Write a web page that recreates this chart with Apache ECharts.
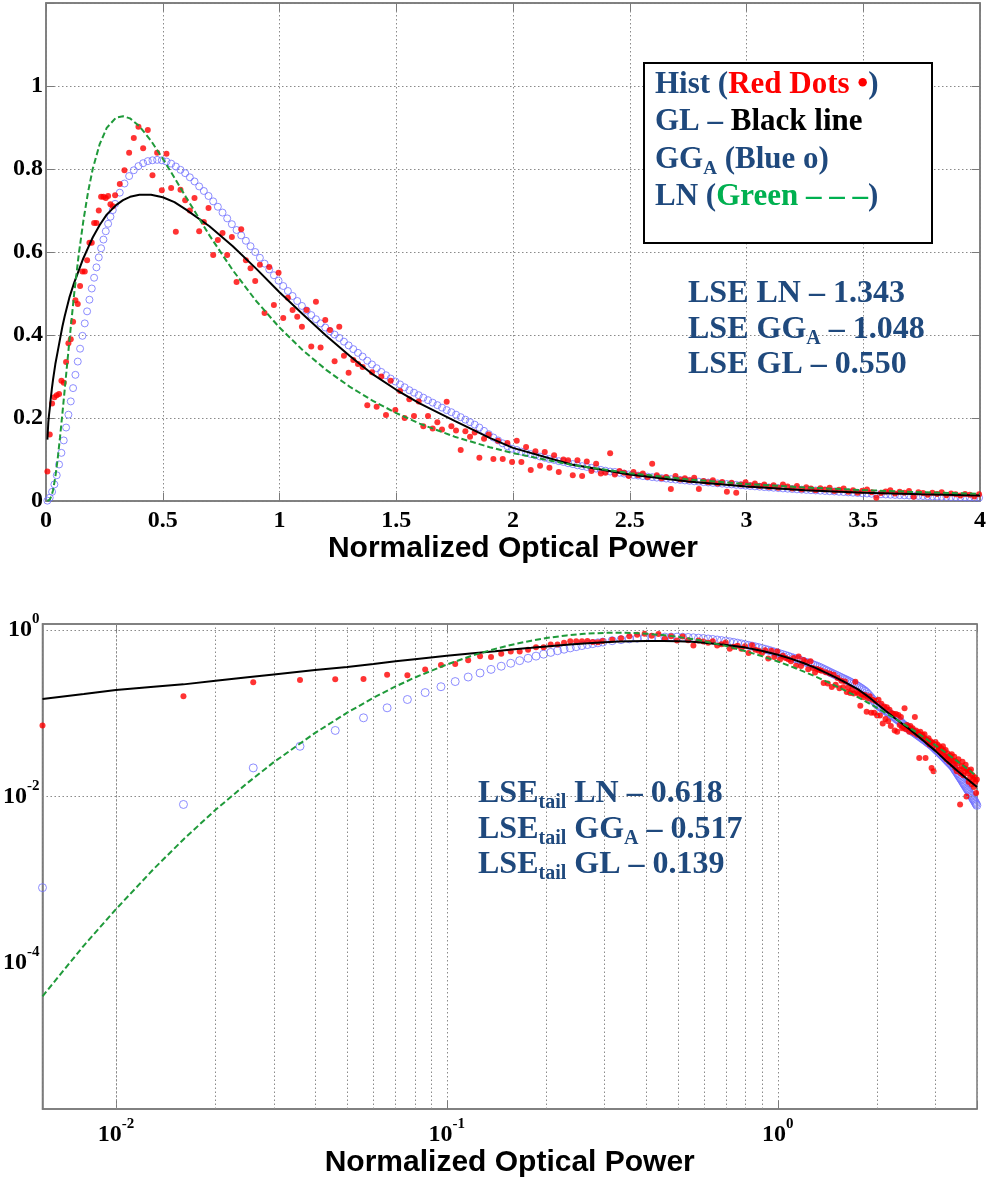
<!DOCTYPE html>
<html><head><meta charset="utf-8">
<script src="https://cdn.jsdelivr.net/npm/echarts/dist/echarts.min.js"></script>
<style>html,body{margin:0;padding:0;background:#fff}#c{width:992px;height:1183px}</style>
</head><body><div id="c"></div>
<script>
// ---------------- DATA ----------------
// shared abscissa of the histogram (red dots) and the GG_A model (blue circles)
const gridX = [
0.006,0.016,0.026,0.036,0.046,0.056,0.066,0.076,0.086,0.096,
0.106,0.116,0.126,0.136,0.146,0.156,0.166,0.176,0.186,0.196,
0.206,0.216,0.226,0.236,0.246,0.256,0.266,0.276,0.286,0.296,
0.316,0.336,0.356,0.376,0.396,0.416,0.436,0.456,0.476,0.496,
0.516,0.536,0.556,0.576,0.596,0.616,0.636,0.656,0.676,0.696,
0.716,0.736,0.756,0.776,0.796,0.816,0.836,0.856,0.876,0.896,
0.916,0.936,0.956,0.976,0.996,1.016,1.036,1.056,1.076,1.096,
1.116,1.136,1.156,1.176,1.196,1.216,1.236,1.256,1.276,1.296,
1.316,1.336,1.356,1.376,1.396,1.416,1.436,1.456,1.476,1.496,
1.516,1.536,1.556,1.576,1.596,1.616,1.636,1.656,1.676,1.696,
1.716,1.736,1.756,1.776,1.796,1.816,1.836,1.856,1.876,1.896,
1.916,1.936,1.956,1.976,1.996,2.016,2.036,2.056,2.076,2.096,
2.116,2.136,2.156,2.176,2.196,2.216,2.236,2.256,2.276,2.296,
2.316,2.336,2.356,2.376,2.396,2.416,2.436,2.456,2.476,2.496,
2.516,2.536,2.556,2.576,2.596,2.616,2.636,2.656,2.676,2.696,
2.716,2.736,2.756,2.776,2.796,2.816,2.836,2.856,2.876,2.896,
2.916,2.936,2.956,2.976,2.996,3.016,3.036,3.056,3.076,3.096,
3.116,3.136,3.156,3.176,3.196,3.216,3.236,3.256,3.276,3.296,
3.316,3.336,3.356,3.376,3.396,3.416,3.436,3.456,3.476,3.496,
3.516,3.536,3.556,3.576,3.596,3.616,3.636,3.656,3.676,3.696,
3.716,3.736,3.756,3.776,3.796,3.816,3.836,3.856,3.876,3.896,
3.916,3.936,3.956,3.976,3.996];

// Hist (red dots)
const histY = [
0.071,0.160,0.235,0.250,0.255,0.258,0.290,0.285,0.335,0.380,
0.390,0.432,0.484,0.475,0.518,0.553,0.553,0.580,0.622,0.622,
0.670,0.670,0.700,0.733,0.733,0.730,0.735,0.715,0.710,0.737,
0.764,0.797,0.839,0.875,0.902,0.850,0.894,0.785,0.839,0.749,
0.837,0.754,0.649,0.750,0.725,0.700,0.730,0.650,0.672,0.706,
0.593,0.629,0.646,0.593,0.636,0.528,0.655,0.580,0.561,0.530,
0.569,0.453,0.564,0.472,0.550,0.441,0.490,0.460,0.444,0.420,
0.460,0.372,0.480,0.370,0.436,0.412,0.337,0.420,0.350,0.309,
0.340,0.330,0.323,0.231,0.310,0.227,0.300,0.207,0.290,0.219,
0.265,0.200,0.245,0.205,0.240,0.180,0.205,0.175,0.190,0.172,
0.239,0.180,0.170,0.123,0.168,0.155,0.165,0.104,0.150,0.160,
0.101,0.145,0.101,0.140,0.094,0.145,0.094,0.130,0.075,0.120,
0.085,0.118,0.080,0.110,0.070,0.100,0.098,0.062,0.098,0.060,
0.095,0.072,0.090,0.066,0.068,0.115,0.064,0.072,0.068,0.060,
0.070,0.062,0.066,0.058,0.090,0.062,0.055,0.058,0.029,0.060,
0.052,0.055,0.050,0.056,0.029,0.048,0.045,0.050,0.042,0.046,
0.022,0.044,0.020,0.040,0.045,0.038,0.042,0.036,0.040,0.034,
0.038,0.032,0.040,0.035,0.030,0.036,0.028,0.033,0.030,0.026,
0.031,0.028,0.032,0.024,0.027,0.030,0.022,0.026,0.020,0.025,
0.028,0.021,0.008,0.019,0.023,0.026,0.018,0.022,0.020,0.024,
0.010,0.021,0.019,0.015,0.020,0.017,0.021,0.014,0.018,0.016,
0.013,0.017,0.015,0.011,0.016];

// GG_A model (blue circles)
const ggaY = [
0.0008,0.008,0.022,0.040,0.062,0.088,0.116,0.146,0.177,0.208,
0.240,0.272,0.304,0.336,0.367,0.398,0.428,0.457,0.485,0.512,
0.538,0.563,0.587,0.609,0.630,0.650,0.668,0.685,0.701,0.716,
0.743,0.765,0.783,0.797,0.807,0.814,0.819,0.821,0.822,0.821,
0.818,0.813,0.806,0.798,0.790,0.780,0.770,0.758,0.747,0.735,
0.722,0.709,0.695,0.681,0.667,0.653,0.640,0.627,0.614,0.600,
0.586,0.572,0.558,0.544,0.531,0.518,0.506,0.494,0.482,0.470,
0.459,0.448,0.438,0.428,0.418,0.409,0.401,0.393,0.384,0.375,
0.366,0.357,0.348,0.338,0.329,0.320,0.311,0.303,0.295,0.288,
0.281,0.274,0.267,0.261,0.255,0.249,0.243,0.237,0.231,0.225,
0.219,0.214,0.208,0.202,0.196,0.190,0.184,0.177,0.169,0.161,
0.153,0.146,0.139,0.132,0.126,0.123,0.119,0.116,0.113,0.110,
0.107,0.104,0.101,0.099,0.096,0.094,0.091,0.089,0.086,0.084,
0.082,0.080,0.078,0.075,0.073,0.071,0.070,0.068,0.066,0.064,
0.0627,0.0613,0.060,0.0588,0.0575,0.0563,0.0551,0.054,0.0528,0.0517,
0.0506,0.0495,0.0485,0.0475,0.0465,0.0455,0.0445,0.0436,0.0427,0.0418,
0.0409,0.040,0.039,0.038,0.037,0.036,0.0353,0.0344,0.0335,0.0327,
0.0319,0.0311,0.0303,0.0296,0.0288,0.0281,0.0274,0.0267,0.026,0.0254,
0.0248,0.0242,0.0236,0.023,0.0222,0.0215,0.0207,0.020,0.0193,0.0187,
0.018,0.0174,0.0168,0.0162,0.0157,0.0151,0.0146,0.0141,0.0136,0.0132,
0.0127,0.0123,0.0119,0.0115,0.0111,0.0107,0.0103,0.0100,0.0096,0.0093,
0.0090,0.0087,0.0084,0.0081,0.0078];

// abscissa of the two fitted curves
const lineX = [
0.006,0.008,0.01,0.013,0.016,0.02,0.025,0.03,0.04,0.05,
0.06,0.07,0.08,0.1,0.12,0.14,0.16,0.18,0.2,0.23,
0.26,0.3,0.33,0.36,0.4,0.45,0.5,0.55,0.6,0.7,
0.8,0.9,1.0,1.1,1.2,1.3,1.4,1.5,1.6,1.75,
1.9,2.0,2.25,2.5,2.75,3.0,3.25,3.5,3.75,4.0];

// GL model (black line)
const glY = [
0.148,0.170,0.190,0.208,0.222,0.245,0.270,0.292,0.330,0.360,
0.390,0.420,0.445,0.490,0.525,0.555,0.585,0.610,0.635,0.665,
0.690,0.713,0.725,0.733,0.738,0.738,0.732,0.720,0.702,0.662,
0.614,0.560,0.503,0.450,0.398,0.350,0.305,0.268,0.235,0.193,
0.152,0.128,0.088,0.064,0.047,0.035,0.026,0.020,0.016,0.013];

// LN model (green dashed)
const lnY = [
0.0000396,0.000161,0.00044,0.00134,0.00304,0.0069,0.01455,0.0258,0.058,0.1014,
0.1533,0.2096,0.268,0.385,0.496,0.593,0.675,0.744,0.800,0.860,
0.899,0.924,0.927,0.922,0.903,0.868,0.825,0.779,0.732,0.640,
0.556,0.482,0.418,0.363,0.316,0.2757,0.2413,0.2119,0.1865,0.155,
0.1296,0.1154,0.0873,0.0670,0.0521,0.0410,0.0326,0.0262,0.0212,0.0174];

// log-plot minor x grid lines and major y grid lines
const logMinorX = [0.007,0.008,0.009,0.02,0.03,0.04,0.05,0.06,0.07,0.08,0.09,
                   0.2,0.3,0.4,0.5,0.6,0.7,0.8,0.9,2,3];
const logMajorY = [1,0.01,0.0001];

// annotation texts
const legendLines = [
  '{b|Hist (}{r|Red Dots •}{b|)}',
  '{b|GL – }{k|Black line}',
  '{b|GG}{s|A}{b| (Blue o)}',
  '{b|LN (}{g|Green – – –}{b|)}'
];
const lseTop = ['{b|LSE LN – 1.343}','{b|LSE GG}{s|A}{b| – 1.048}','{b|LSE GL – 0.550}'];
const lseBottom = ['{b|LSE}{s|tail}{b| LN – 0.618}','{b|LSE}{s|tail}{b| GG}{s|A}{b| – 0.517}','{b|LSE}{s|tail}{b| GL – 0.139}'];
const axisTitle = 'Normalized Optical Power';

// ---------------- CHART ----------------
const serif = "'Liberation Serif','Times New Roman',serif";
const sans = "'Liberation Sans',Arial,sans-serif";
const gridColor = '#8a8a8a', axisColor = '#7a7a7a';
const navy = '#1F497D', red = '#ff0000', blue = '#7070ff', green = '#1f9a3a', officeGreen = '#00B050';
const pair = (xs, ys) => xs.map((x, i) => [x, ys[i]]);
const hist = pair(gridX, histY), gga = pair(gridX, ggaY), gl = pair(lineX, glY), ln = pair(lineX, lnY);

function powLabel(v, evenOnly) {
  const e = Math.log10(v), r = Math.round(e);
  if (Math.abs(e - r) > 1e-6) return '';
  if (evenOnly && r % 2 !== 0) return '';
  return '{b|10}{s|' + r + '}';
}
const powRich = {
  b: {fontFamily: serif, fontWeight: 'bold', fontSize: 24, lineHeight: 36, color: '#000'},
  s: {fontFamily: serif, fontWeight: 'bold', fontSize: 15, lineHeight: 15, verticalAlign: 'top', color: '#000'}
};
const labelStyle = {fontFamily: serif, fontWeight: 'bold', fontSize: 24, lineHeight: 24, color: '#000'};
const nameStyle = {fontFamily: sans, fontWeight: 'bold', fontSize: 30, lineHeight: 30, color: '#000'};
const splitStyle = {show: true, lineStyle: {color: gridColor, width: 1, type: [1.5, 2.5]}};
const axLine = {show: true, onZero: false, lineStyle: {color: axisColor, width: 1.5}};
const tickIn = {show: true, inside: true, length: 8, lineStyle: {color: axisColor}};

const lineBase = {type: 'line', showSymbol: false, symbol: 'none', silent: true, animation: false};
const scatterBase = {type: 'scatter', silent: true, animation: false};

function textRich(size, subSize, lh) {
  const base = {fontFamily: serif, fontWeight: 'bold', fontSize: size, lineHeight: lh};
  return {
    b: Object.assign({fill: navy}, base),
    r: Object.assign({fill: red}, base),
    k: Object.assign({fill: '#000'}, base),
    g: Object.assign({fill: officeGreen}, base),
    s: {fill: navy, fontFamily: serif, fontWeight: 'bold', fontSize: subSize, lineHeight: Math.round(subSize * 1.2), verticalAlign: 'bottom'}
  };
}
const graphics = [
  {type: 'rect', shape: {x: 644, y: 63, width: 288, height: 180}, style: {fill: '#fff', stroke: '#000', lineWidth: 2}, z: 100}
];
legendLines.forEach((t, i) => graphics.push({type: 'text', x: 655, y: 85 + i * 37.3, z: 101,
  style: {text: t, rich: textRich(31, 19, 37), align: 'left', verticalAlign: 'middle'}}));
lseTop.forEach((t, i) => graphics.push({type: 'text', x: 688, y: 294 + i * 35.5, z: 101,
  style: {text: t, rich: textRich(32, 20, 38), align: 'left', verticalAlign: 'middle'}}));
lseBottom.forEach((t, i) => graphics.push({type: 'text', x: 478, y: 794 + i * 35.5, z: 101,
  style: {text: t, rich: textRich(32, 20, 38), align: 'left', verticalAlign: 'middle'}}));

const option = {
  animation: false,
  backgroundColor: '#fff',
  grid: [
    {left: 46, top: 3, width: 934, height: 498, show: true, borderColor: axisColor, borderWidth: 1.5, backgroundColor: 'transparent'},
    {left: 42, top: 624, width: 935, height: 485, show: true, borderColor: axisColor, borderWidth: 1.5, backgroundColor: 'transparent'}
  ],
  xAxis: [
    {type: 'value', gridIndex: 0, min: 0, max: 4, interval: 0.5, position: 'bottom',
     axisLine: axLine, axisTick: tickIn, splitLine: splitStyle,
     axisLabel: Object.assign({margin: 8}, labelStyle),
     name: axisTitle, nameLocation: 'middle', nameGap: 31, nameTextStyle: nameStyle},
    {type: 'value', gridIndex: 0, min: 0, max: 4, interval: 0.5, position: 'top',
     axisLine: axLine, axisTick: tickIn, splitLine: {show: false}, axisLabel: {show: false}},
    {type: 'log', logBase: 10, gridIndex: 1, min: 0.006, max: 4, position: 'bottom',
     axisLine: axLine, axisTick: tickIn, splitLine: splitStyle,
     axisLabel: {margin: 8, formatter: v => powLabel(v, false), rich: powRich},
     name: axisTitle, nameLocation: 'middle', nameGap: 36, nameTextStyle: nameStyle},
    {type: 'log', logBase: 10, gridIndex: 1, min: 0.006, max: 4, position: 'top',
     axisLine: axLine, axisTick: tickIn, splitLine: {show: false}, axisLabel: {show: false}}
  ],
  yAxis: [
    {type: 'value', gridIndex: 0, min: 0, max: 1.2, interval: 0.2, position: 'left',
     axisLine: axLine, axisTick: tickIn, splitLine: splitStyle,
     axisLabel: Object.assign({margin: 3, formatter: v => (v > 1.1 ? '' : String(v))}, labelStyle)},
    {type: 'value', gridIndex: 0, min: 0, max: 1.2, interval: 0.2, position: 'right',
     axisLine: axLine, axisTick: tickIn, splitLine: {show: false}, axisLabel: {show: false}},
    {type: 'log', logBase: 10, gridIndex: 1, min: 1.75e-6, max: 1.18, position: 'left',
     axisLine: axLine, axisTick: {show: false}, splitLine: {show: false},
     axisLabel: {margin: 3, formatter: v => powLabel(v, true), rich: powRich}}
  ],
  series: [
    // dotted grid lines of the log plot
    {type: 'line', xAxisIndex: 2, yAxisIndex: 2, data: [], z: 1, silent: true,
     markLine: {silent: true, symbol: 'none', animation: false, label: {show: false},
       lineStyle: {color: gridColor, width: 1, type: [1.5, 2.5]},
       data: logMinorX.map(v => ({xAxis: v})).concat(logMajorY.map(v => ({yAxis: v})))}},
    // top (linear) plot
    Object.assign({}, scatterBase, {name: 'GG_A', xAxisIndex: 0, yAxisIndex: 0, data: gga, symbol: 'circle', symbolSize: 7,
      itemStyle: {color: 'rgba(0,0,0,0)', borderColor: blue, borderWidth: 1}, z: 3}),
    Object.assign({}, scatterBase, {name: 'Hist', xAxisIndex: 0, yAxisIndex: 0, data: hist, symbol: 'circle', symbolSize: 6,
      itemStyle: {color: red}, z: 4}),
    Object.assign({}, lineBase, {name: 'GL', xAxisIndex: 0, yAxisIndex: 0, data: gl, lineStyle: {color: '#000', width: 2}, z: 5}),
    Object.assign({}, lineBase, {name: 'LN', xAxisIndex: 0, yAxisIndex: 0, data: ln, lineStyle: {color: green, width: 2, type: [6, 3]}, z: 6}),
    // bottom (log-log) plot
    Object.assign({}, scatterBase, {name: 'GG_A log', xAxisIndex: 2, yAxisIndex: 2, data: gga, symbol: 'circle', symbolSize: 8,
      itemStyle: {color: 'rgba(0,0,0,0)', borderColor: blue, borderWidth: 1}, z: 3}),
    Object.assign({}, scatterBase, {name: 'Hist log', xAxisIndex: 2, yAxisIndex: 2, data: hist, symbol: 'circle', symbolSize: 6,
      itemStyle: {color: red}, z: 4}),
    Object.assign({}, lineBase, {name: 'GL log', xAxisIndex: 2, yAxisIndex: 2, data: gl, lineStyle: {color: '#000', width: 2}, z: 5}),
    Object.assign({}, lineBase, {name: 'LN log', xAxisIndex: 2, yAxisIndex: 2, data: ln, lineStyle: {color: green, width: 2, type: [6, 3]}, z: 6})
  ],
  graphic: graphics
};
const chart = echarts.init(document.getElementById('c'), null, {renderer: 'canvas'});
chart.setOption(option);
</script>
</body></html>
